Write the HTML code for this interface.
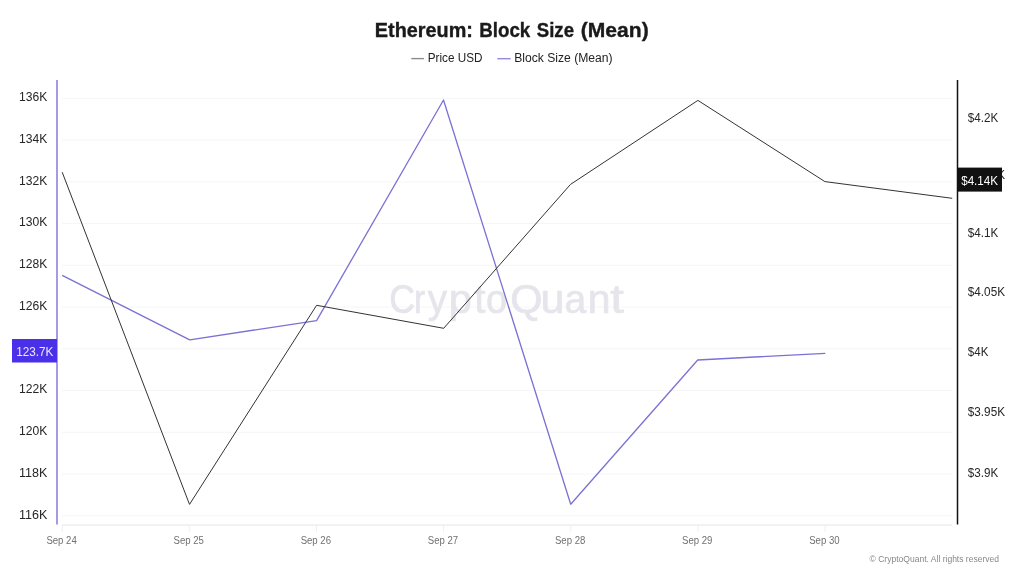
<!DOCTYPE html>
<html><head><meta charset="utf-8"><style>
html,body{margin:0;padding:0;background:#fff;width:1024px;height:576px;overflow:hidden}
svg{display:block;will-change:transform}
text{font-family:"Liberation Sans",sans-serif}
.yl{font-size:12.5px;fill:#262626}
.xl{font-size:10px;fill:#707070}
.bl{font-size:12px;fill:#ece8ff}
.br{font-size:12px;fill:#fff}
.title{font-size:19.5px;font-weight:bold;fill:#1a1a1a;stroke:#1a1a1a;stroke-width:0.35px}
.lg{font-size:12.5px;fill:#222}
.cp{font-size:9px;fill:#888}
</style></head><body>
<svg width="1024" height="576" viewBox="0 0 1024 576">
<rect width="1024" height="576" fill="#fff"/>
<line x1="62" x2="952" y1="98.4" y2="98.4" stroke="#f6f6f6" stroke-width="1"/>
<line x1="62" x2="952" y1="140.1" y2="140.1" stroke="#f6f6f6" stroke-width="1"/>
<line x1="62" x2="952" y1="181.9" y2="181.9" stroke="#f6f6f6" stroke-width="1"/>
<line x1="62" x2="952" y1="223.6" y2="223.6" stroke="#f6f6f6" stroke-width="1"/>
<line x1="62" x2="952" y1="265.4" y2="265.4" stroke="#f6f6f6" stroke-width="1"/>
<line x1="62" x2="952" y1="307.1" y2="307.1" stroke="#f6f6f6" stroke-width="1"/>
<line x1="62" x2="952" y1="348.8" y2="348.8" stroke="#f6f6f6" stroke-width="1"/>
<line x1="62" x2="952" y1="390.6" y2="390.6" stroke="#f6f6f6" stroke-width="1"/>
<line x1="62" x2="952" y1="432.3" y2="432.3" stroke="#f6f6f6" stroke-width="1"/>
<line x1="62" x2="952" y1="474.1" y2="474.1" stroke="#f6f6f6" stroke-width="1"/>
<line x1="62" x2="952" y1="515.8" y2="515.8" stroke="#f6f6f6" stroke-width="1"/>
<line x1="62" x2="952" y1="525" y2="525" stroke="#e6e6e6" stroke-width="1"/>
<line x1="62.2" x2="62.2" y1="525" y2="532" stroke="#f0f0f0" stroke-width="1"/>
<line x1="189.3" x2="189.3" y1="525" y2="532" stroke="#f0f0f0" stroke-width="1"/>
<line x1="316.5" x2="316.5" y1="525" y2="532" stroke="#f0f0f0" stroke-width="1"/>
<line x1="443.6" x2="443.6" y1="525" y2="532" stroke="#f0f0f0" stroke-width="1"/>
<line x1="570.8" x2="570.8" y1="525" y2="532" stroke="#f0f0f0" stroke-width="1"/>
<line x1="697.9" x2="697.9" y1="525" y2="532" stroke="#f0f0f0" stroke-width="1"/>
<line x1="825.0" x2="825.0" y1="525" y2="532" stroke="#f0f0f0" stroke-width="1"/>
<text x="389.17" y="312.5" font-size="40" fill="#e5e5eb" stroke="#e5e5eb" stroke-width="0.7" textLength="25.77" lengthAdjust="spacingAndGlyphs">C</text>
<text x="414.03" y="312.5" font-size="40" fill="#e5e5eb" stroke="#e5e5eb" stroke-width="0.7" textLength="11.20" lengthAdjust="spacingAndGlyphs">r</text>
<text x="427.85" y="312.5" font-size="40" fill="#e5e5eb" stroke="#e5e5eb" stroke-width="0.7" textLength="19.30" lengthAdjust="spacingAndGlyphs">y</text>
<text x="448.83" y="312.5" font-size="40" fill="#e5e5eb" stroke="#e5e5eb" stroke-width="0.7" textLength="23.12" lengthAdjust="spacingAndGlyphs">p</text>
<text x="474.34" y="312.5" font-size="40" fill="#e5e5eb" stroke="#e5e5eb" stroke-width="0.7" textLength="11.24" lengthAdjust="spacingAndGlyphs">t</text>
<text x="485.96" y="312.5" font-size="40" fill="#e5e5eb" stroke="#e5e5eb" stroke-width="0.7" textLength="21.08" lengthAdjust="spacingAndGlyphs">o</text>
<text x="510.18" y="312.5" font-size="40" fill="#e5e5eb" stroke="#e5e5eb" stroke-width="0.7" textLength="32.28" lengthAdjust="spacingAndGlyphs">Q</text>
<text x="540.42" y="312.5" font-size="40" fill="#e5e5eb" stroke="#e5e5eb" stroke-width="0.7" textLength="23.95" lengthAdjust="spacingAndGlyphs">u</text>
<text x="564.40" y="312.5" font-size="40" fill="#e5e5eb" stroke="#e5e5eb" stroke-width="0.7" textLength="21.69" lengthAdjust="spacingAndGlyphs">a</text>
<text x="587.78" y="312.5" font-size="40" fill="#e5e5eb" stroke="#e5e5eb" stroke-width="0.7" textLength="22.77" lengthAdjust="spacingAndGlyphs">n</text>
<text x="610.32" y="312.5" font-size="40" fill="#e5e5eb" stroke="#e5e5eb" stroke-width="0.7" textLength="13.68" lengthAdjust="spacingAndGlyphs">t</text>
<polyline points="62.2,275.3 189.7,339.8 316.6,320.6 443.5,100.0 570.7,504.2 697.7,360.0 825.3,353.3" fill="none" stroke="#7a71d4" stroke-width="1.3" stroke-linejoin="round"/>
<polyline points="62.2,172.2 189.5,504.4 316.6,305.3 443.7,328.3 570.5,184.4 697.9,100.4 824.9,181.6 952.2,198.3" fill="none" stroke="#333" stroke-width="1" stroke-linejoin="round"/>
<line x1="57" x2="57" y1="80" y2="524.5" stroke="#a69be2" stroke-width="2"/>
<line x1="957.5" x2="957.5" y1="80" y2="524.5" stroke="#111" stroke-width="1.5"/>
<text x="374.88" y="36.5" class="title" textLength="98.08" lengthAdjust="spacingAndGlyphs">Ethereum:</text>
<text x="479.24" y="36.5" class="title" textLength="51.07" lengthAdjust="spacingAndGlyphs">Block</text>
<text x="536.74" y="36.5" class="title" textLength="37.29" lengthAdjust="spacingAndGlyphs">Size</text>
<text x="580.82" y="36.5" class="title" textLength="67.89" lengthAdjust="spacingAndGlyphs">(Mean)</text>
<text x="427.76" y="61.7" class="lg" textLength="54.76" lengthAdjust="spacingAndGlyphs">Price USD</text>
<text x="514.13" y="61.7" class="lg" textLength="98.50" lengthAdjust="spacingAndGlyphs">Block Size (Mean)</text>
<text x="19.03" y="101.2" class="yl" textLength="28.26" lengthAdjust="spacingAndGlyphs">136K</text>
<text x="19.03" y="142.9" class="yl" textLength="28.26" lengthAdjust="spacingAndGlyphs">134K</text>
<text x="19.03" y="184.7" class="yl" textLength="28.26" lengthAdjust="spacingAndGlyphs">132K</text>
<text x="19.03" y="226.4" class="yl" textLength="28.26" lengthAdjust="spacingAndGlyphs">130K</text>
<text x="19.03" y="268.2" class="yl" textLength="28.26" lengthAdjust="spacingAndGlyphs">128K</text>
<text x="19.03" y="309.9" class="yl" textLength="28.26" lengthAdjust="spacingAndGlyphs">126K</text>
<text x="19.03" y="393.4" class="yl" textLength="28.26" lengthAdjust="spacingAndGlyphs">122K</text>
<text x="19.03" y="435.1" class="yl" textLength="28.26" lengthAdjust="spacingAndGlyphs">120K</text>
<text x="19.00" y="476.9" class="yl" textLength="28.37" lengthAdjust="spacingAndGlyphs">118K</text>
<text x="19.00" y="518.6" class="yl" textLength="28.37" lengthAdjust="spacingAndGlyphs">116K</text>
<text x="967.80" y="122.3" class="yl" textLength="30.43" lengthAdjust="spacingAndGlyphs">$4.2K</text>
<text x="967.80" y="179.2" class="yl" textLength="37.19" lengthAdjust="spacingAndGlyphs">$4.15K</text>
<text x="967.80" y="237.3" class="yl" textLength="30.43" lengthAdjust="spacingAndGlyphs">$4.1K</text>
<text x="967.80" y="296.1" class="yl" textLength="37.19" lengthAdjust="spacingAndGlyphs">$4.05K</text>
<text x="967.80" y="355.6" class="yl" textLength="20.53" lengthAdjust="spacingAndGlyphs">$4K</text>
<text x="967.80" y="415.6" class="yl" textLength="37.19" lengthAdjust="spacingAndGlyphs">$3.95K</text>
<text x="967.80" y="477.3" class="yl" textLength="30.43" lengthAdjust="spacingAndGlyphs">$3.9K</text>
<text x="46.39" y="544.0" class="xl" textLength="30.37" lengthAdjust="spacingAndGlyphs">Sep 24</text>
<text x="173.53" y="544.0" class="xl" textLength="30.37" lengthAdjust="spacingAndGlyphs">Sep 25</text>
<text x="300.67" y="544.0" class="xl" textLength="30.37" lengthAdjust="spacingAndGlyphs">Sep 26</text>
<text x="427.81" y="544.0" class="xl" textLength="30.37" lengthAdjust="spacingAndGlyphs">Sep 27</text>
<text x="554.95" y="544.0" class="xl" textLength="30.37" lengthAdjust="spacingAndGlyphs">Sep 28</text>
<text x="682.09" y="544.0" class="xl" textLength="30.37" lengthAdjust="spacingAndGlyphs">Sep 29</text>
<text x="809.23" y="544.0" class="xl" textLength="30.37" lengthAdjust="spacingAndGlyphs">Sep 30</text>
<text x="869.55" y="561.8" class="cp" textLength="129.50" lengthAdjust="spacingAndGlyphs">© CryptoQuant. All rights reserved</text>
<rect x="12" y="339" width="45" height="23.5" fill="#4a30e8"/>
<text x="16.22" y="356.1" class="bl" textLength="37.22" lengthAdjust="spacingAndGlyphs">123.7K</text>
<rect x="958" y="167.6" width="44" height="24" fill="#111"/>
<text x="961.20" y="184.7" class="br" textLength="36.85" lengthAdjust="spacingAndGlyphs">$4.14K</text>
<line x1="411.3" x2="423.9" y1="58.6" y2="58.6" stroke="#8c8c8c" stroke-width="1.4"/>
<line x1="497.3" x2="510.7" y1="58.7" y2="58.7" stroke="#938ade" stroke-width="1.4"/>
</svg>
</body></html>
